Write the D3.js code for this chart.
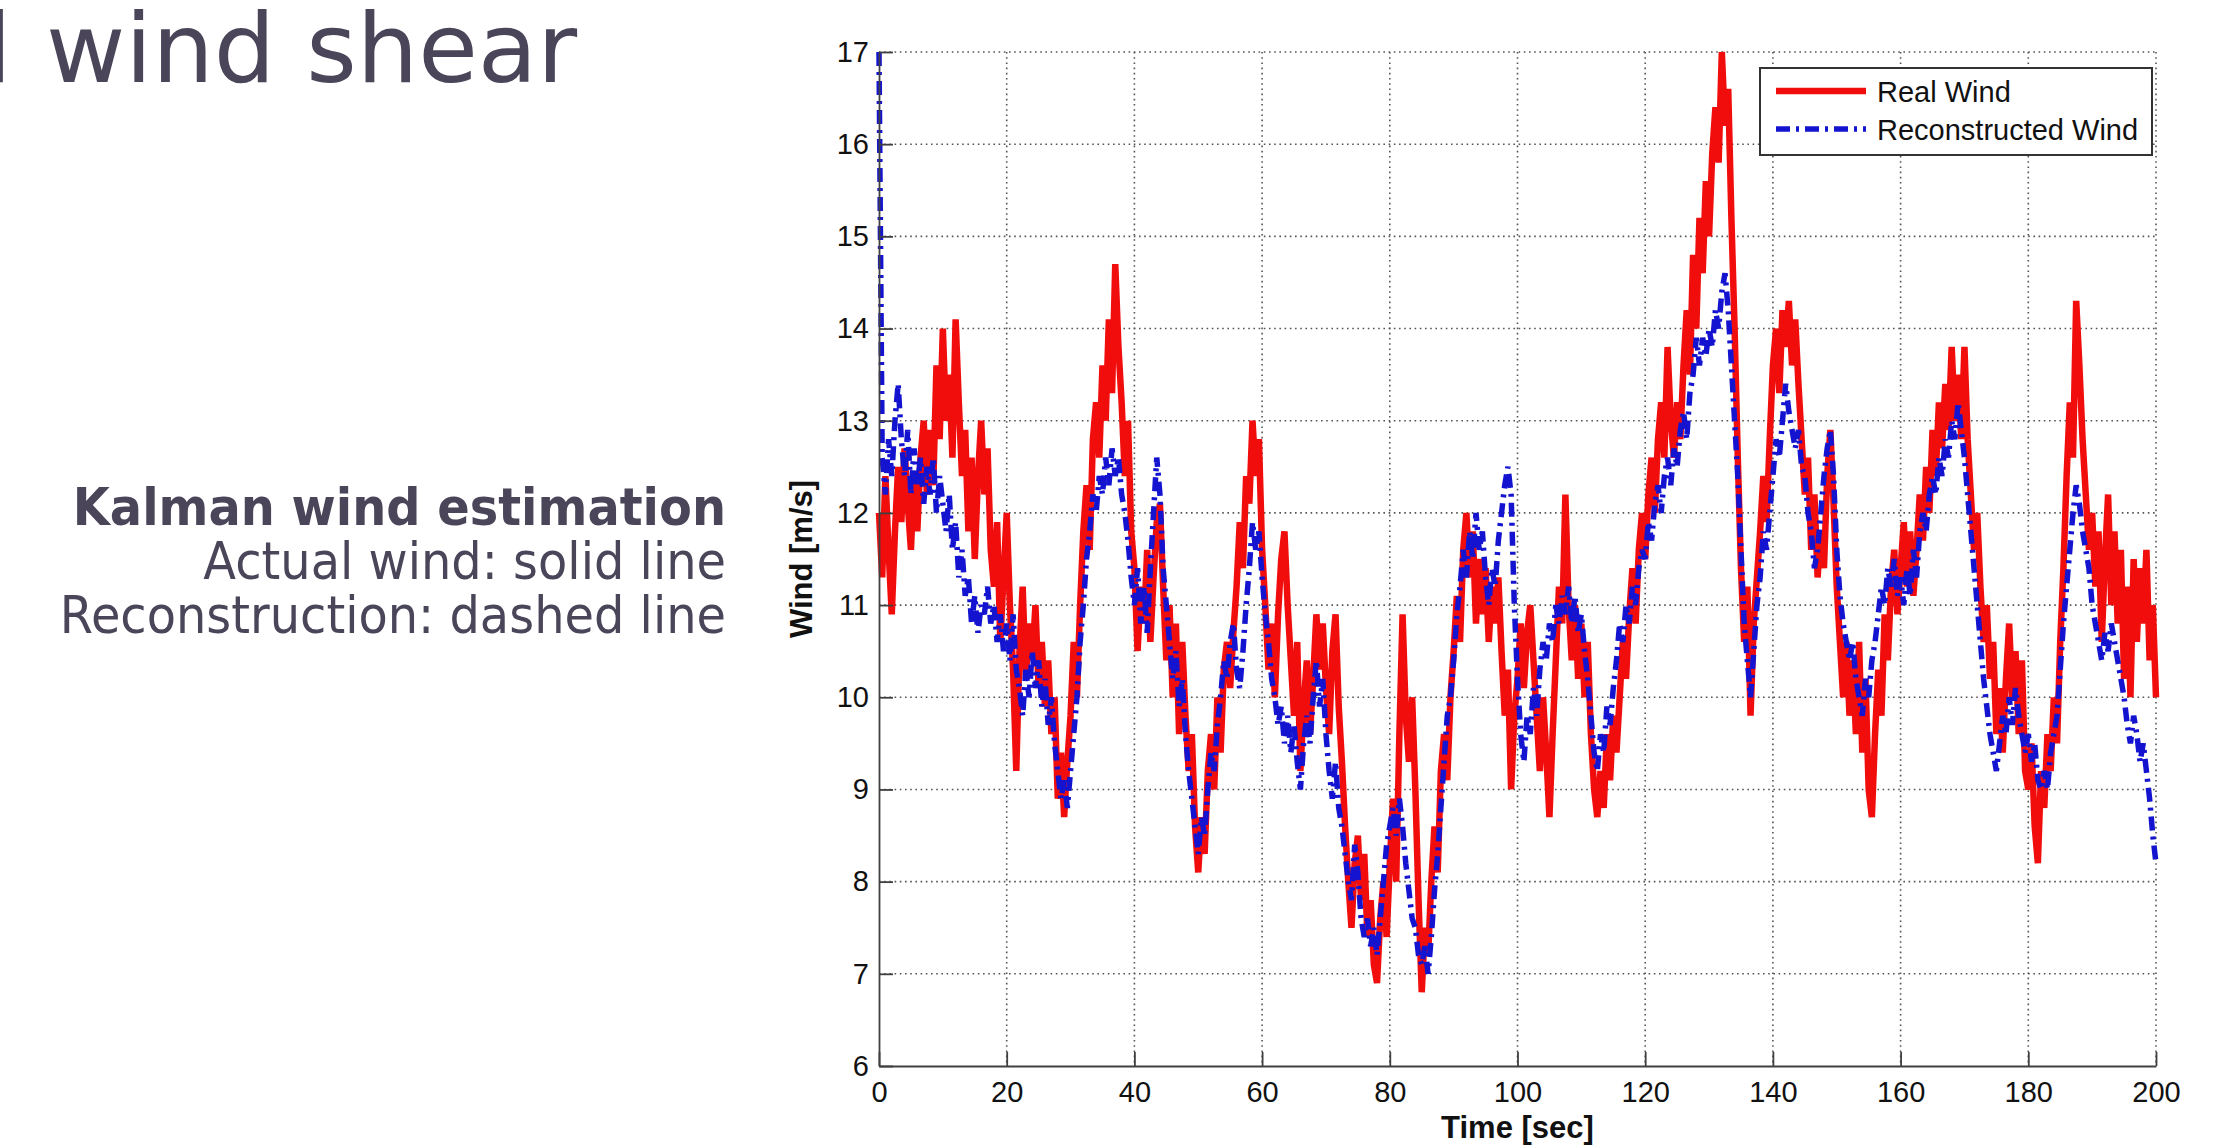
<!DOCTYPE html>
<html><head><meta charset="utf-8">
<script src="https://cdn.jsdelivr.net/npm/d3@7"></script>
<style>body{margin:0;background:#fff;} svg{display:block;}</style>
</head><body><svg id="c" width="2232" height="1146"></svg>
<script>
const xTicks = [0,20,40,60,80,100,120,140,160,180,200];
const yTicks = [6,7,8,9,10,11,12,13,14,15,16,17];
const timeStep = 0.5;
const seriesNames = ["Real Wind","Reconstructed Wind"];
const titleLeft = "l";
const titleRight = "wind shear";
const noteLines = ["Kalman wind estimation","Actual wind: solid line","Reconstruction: dashed line"];
const xLabel = "Time [sec]";
const yLabel = "Wind [m/s]";

const realWind = [
12.0,11.3,12.4,11.6,10.9,11.8,12.5,11.9,12.7,12.1,11.6,12.4,11.8,12.6,13.0,12.2,12.9,12.3,13.6,12.8,
14.0,13.0,13.5,12.6,14.1,13.2,12.4,12.9,11.8,12.6,11.5,12.4,13.0,12.2,12.7,11.6,11.2,11.9,10.6,11.3,
12.0,11.0,10.3,9.2,10.5,11.2,10.2,10.8,10.4,11.0,10.1,10.6,9.9,10.4,9.6,10.0,8.9,9.4,8.7,9.3,
9.8,10.6,10.0,11.0,11.8,12.3,11.6,12.8,13.2,12.6,13.6,13.0,14.1,13.3,14.7,13.8,13.2,12.4,13.0,11.8,
11.4,10.5,11.2,10.8,11.6,10.6,11.3,11.9,12.1,11.2,10.4,11.0,10.0,10.8,9.6,10.6,9.8,9.2,9.6,8.6,
8.1,8.7,8.3,9.2,9.6,9.0,10.0,9.4,10.3,10.6,10.1,10.7,11.2,11.9,11.4,12.4,12.1,13.0,12.4,12.8,
11.6,11.0,10.3,10.8,10.0,10.9,11.5,11.8,11.0,10.4,9.8,10.6,9.2,9.9,10.4,9.6,10.2,10.9,10.3,10.8,
10.1,9.6,10.5,10.9,9.9,9.3,8.6,8.0,7.5,8.2,8.5,7.8,8.3,7.4,7.8,7.1,6.9,7.6,8.0,7.4,
8.2,8.9,8.0,9.6,10.9,9.8,9.3,10.0,9.0,7.8,6.8,7.5,7.2,8.0,8.6,8.1,9.2,9.6,9.1,10.0,
10.5,11.1,10.6,11.6,12.0,11.3,11.8,10.8,11.5,10.9,11.4,10.6,11.2,10.8,11.3,10.5,9.8,10.3,9.0,9.8,
10.2,10.8,10.1,10.7,11.0,10.4,9.8,9.2,10.0,9.4,8.7,9.6,10.4,11.2,10.8,12.2,11.0,10.4,11.0,10.2,
10.8,10.0,10.6,9.6,9.0,8.7,9.2,8.8,9.6,9.1,9.8,9.4,10.0,10.6,10.2,10.9,11.4,10.8,11.6,12.0,
11.5,12.2,12.6,12.0,12.8,13.2,12.6,13.8,13.0,12.6,13.2,12.8,13.6,14.2,13.5,14.8,14.0,15.2,14.6,15.6,
15.0,15.9,16.4,15.8,17.0,16.2,16.6,15.2,14.0,12.6,11.4,10.6,11.2,9.8,10.8,11.3,11.8,12.4,11.9,12.8,
13.6,14.0,13.3,14.2,13.8,14.3,13.6,14.1,13.4,12.8,12.2,12.6,11.6,12.2,11.3,11.8,11.4,12.4,12.9,12.1,
11.2,10.6,10.0,10.6,9.8,10.4,9.6,10.6,9.4,10.2,9.0,8.7,9.6,10.3,9.8,10.9,10.4,11.2,11.6,10.9,
11.4,11.9,11.2,11.8,11.1,11.6,12.2,11.7,12.5,12.0,12.9,12.4,13.2,12.7,13.4,12.9,13.8,13.0,13.5,12.8,
13.8,12.8,12.2,11.6,12.0,11.2,10.6,11.0,10.2,10.6,9.6,10.1,9.4,10.2,10.8,10.0,10.5,9.6,10.4,9.2,
9.0,9.5,8.6,8.2,9.2,8.8,9.6,9.2,10.0,9.5,10.6,11.4,12.4,13.2,12.6,14.3,13.6,12.8,12.2,11.6,
12.0,11.2,11.8,10.6,11.5,12.2,11.0,11.8,10.8,11.6,10.2,11.2,10.0,11.5,10.6,11.4,10.8,11.6,10.4,11.0,
10.0];

const reconWind = [
17.0,12.6,12.2,12.8,12.4,13.0,13.4,12.8,12.4,12.9,12.2,12.7,12.3,12.6,12.1,12.5,12.2,12.6,12.0,12.4,
12.1,11.8,12.2,11.6,11.9,11.3,11.6,11.1,11.3,10.8,11.1,10.7,11.0,10.9,11.2,10.8,11.0,10.6,10.9,10.5,
10.8,10.4,10.9,10.3,10.1,9.8,10.3,10.0,10.5,10.1,10.4,9.9,10.2,9.7,10.0,9.5,9.2,8.9,9.1,8.8,
9.2,9.6,10.0,10.6,11.0,11.5,11.8,12.2,12.0,12.4,12.2,12.6,12.3,12.7,12.4,12.6,12.2,12.0,11.7,11.3,
11.0,11.4,10.8,11.2,10.7,11.4,12.0,12.6,12.2,11.4,11.0,10.6,10.2,10.5,9.9,10.2,9.6,9.2,8.9,8.6,
8.3,8.7,8.5,9.0,9.4,9.2,9.7,10.0,10.4,10.2,10.6,10.8,10.3,10.1,10.5,11.0,11.4,11.9,11.6,11.8,
11.3,10.9,10.6,10.2,10.0,9.7,9.9,9.5,9.8,9.4,9.7,9.3,9.0,9.5,9.8,9.5,10.0,10.4,9.9,10.2,
9.6,9.2,8.9,9.3,8.8,8.6,8.3,8.0,7.8,8.4,8.1,7.6,7.4,7.6,7.3,7.5,7.2,7.6,8.0,8.4,
8.6,8.8,8.5,8.9,8.6,8.2,7.9,7.6,7.5,7.2,7.1,7.3,7.0,7.4,7.9,8.3,8.8,9.3,9.8,10.0,
10.4,10.9,11.2,11.6,11.3,11.8,11.5,12.0,11.6,11.8,11.3,11.0,11.4,11.2,11.7,12.0,12.3,12.5,12.2,11.0,
10.2,9.6,9.3,9.8,9.6,10.1,9.8,10.3,10.6,10.4,10.8,10.6,11.0,10.8,11.1,10.9,11.2,10.8,11.1,10.7,
10.9,10.5,10.2,9.8,9.4,9.2,9.6,9.4,9.9,9.7,10.1,10.4,10.8,10.6,11.0,10.8,11.2,11.0,11.4,11.6,
11.5,11.9,11.7,12.1,12.3,12.0,12.4,12.6,12.3,12.7,12.5,12.9,13.1,12.8,13.3,13.5,13.9,13.6,13.9,13.7,
14.0,13.8,14.2,14.0,14.4,14.6,14.2,13.6,13.0,12.4,11.6,10.8,10.4,10.0,10.5,11.0,11.3,11.8,11.6,12.0,
12.4,12.8,12.6,13.0,13.4,13.1,12.9,12.7,12.9,12.5,12.4,12.0,11.8,11.4,11.6,12.0,12.4,12.7,12.9,12.4,
11.6,11.1,10.8,10.6,10.4,10.6,10.2,10.0,9.8,10.2,10.0,10.4,10.6,10.9,11.2,11.0,11.4,11.2,11.5,11.1,
11.3,11.0,11.4,11.1,11.6,11.3,11.8,12.0,11.8,12.2,12.4,12.2,12.6,12.4,12.8,12.6,13.0,12.8,13.2,12.9,
12.6,12.2,11.8,11.4,11.0,10.6,10.2,9.9,9.6,9.4,9.2,9.5,9.8,9.6,10.0,9.7,10.1,9.8,9.6,9.4,
9.6,9.3,9.5,9.1,9.0,9.2,9.0,9.4,9.6,9.8,10.3,10.8,11.2,11.6,12.0,12.3,12.1,11.8,11.6,11.4,
11.0,10.8,10.6,10.4,10.7,10.5,10.8,10.6,10.4,10.2,10.0,9.7,9.5,9.8,9.6,9.3,9.5,9.2,8.9,8.5,
8.2];

const svg = d3.select("#c");
svg.append("rect").attr("width",2232).attr("height",1146).attr("fill","#fff");

const textColor = "#4a4559";
// slide texts
const t = svg.append("text").attr("y",82).attr("fill",textColor)
  .style("font-family","'DejaVu Sans', Verdana, sans-serif").style("font-size","97px");
t.append("tspan").attr("x",-15).text(titleLeft);
t.append("tspan").attr("x",46).text(titleRight);

const noteY = [525,579,633];
const notes = svg.append("g").attr("transform","translate(726,0) scale(0.93,1)");
noteLines.forEach((s,i)=>{
  notes.append("text").attr("x",0).attr("y",noteY[i]).attr("text-anchor","end")
    .attr("fill",textColor)
    .style("font-family","'DejaVu Sans', Verdana, sans-serif")
    .style("font-size","51.5px").style("font-weight", i===0?"bold":"normal")
    .text(s);
});

// chart
const x = d3.scaleLinear().domain([0,200]).range([879,2156]);
const y = d3.scaleLinear().domain([6,17]).range([1066,52]);
const axisColor = "#404040";
const font = "'Liberation Sans', Arial, sans-serif";

// grid
const grid = svg.append("g").attr("stroke","#555").attr("stroke-width",1.6).attr("stroke-dasharray","1.6,3.6");
grid.selectAll(".gx").data(xTicks.filter(d=>d>0)).join("line")
  .attr("x1",d=>x(d)).attr("x2",d=>x(d)).attr("y1",y(17)).attr("y2",y(6));
grid.selectAll(".gy").data(yTicks.filter(d=>d>6)).join("line")
  .attr("y1",d=>y(d)).attr("y2",d=>y(d)).attr("x1",x(0)).attr("x2",x(200));

// lines
const pts = arr => arr.map((v,i)=>[i*timeStep, v]);
const line = d3.line().x(d=>x(d[0])).y(d=>y(d[1]));
svg.append("path").datum(pts(realWind)).attr("d",line)
  .attr("fill","none").attr("stroke","#f20d0d").attr("stroke-width",6.5).attr("stroke-linejoin","miter").attr("stroke-miterlimit",2);
svg.append("path").datum(pts(reconWind)).attr("d",line)
  .attr("fill","none").attr("stroke","#1414d0").attr("stroke-width",5.5).attr("stroke-dasharray","14,6,3,6").attr("stroke-miterlimit",2);

// axes
const gx = svg.append("g").attr("transform",`translate(0,${y(6)})`)
  .call(d3.axisBottom(x).tickValues(xTicks).tickSizeInner(-14).tickSizeOuter(0).tickPadding(15).tickFormat(d3.format("d")));
const gy = svg.append("g").attr("transform",`translate(${x(0)},0)`)
  .call(d3.axisLeft(y).tickValues(yTicks).tickSizeInner(-14).tickSizeOuter(0).tickPadding(10).tickFormat(d3.format("d")));
[gx,gy].forEach(g=>{
  g.selectAll("path,line").attr("stroke",axisColor).attr("stroke-width",1.8);
  g.selectAll("text").attr("fill","#111").style("font-family",font).style("font-size","29px");
});

svg.append("text").attr("x",(x(0)+x(200))/2).attr("y",1138).attr("text-anchor","middle")
  .attr("fill","#111").style("font-family",font).style("font-size","31px").style("font-weight","bold").text(xLabel);
svg.append("text").attr("transform",`translate(812,${(y(6)+y(17))/2}) rotate(-90)`).attr("text-anchor","middle")
  .attr("fill","#111").style("font-family",font).style("font-size","31px").style("font-weight","bold").text(yLabel);

// legend
const lg = svg.append("g");
lg.append("rect").attr("x",1760).attr("y",68).attr("width",392).attr("height",87)
  .attr("fill","#fff").attr("stroke","#333").attr("stroke-width",2);
const legY = [91,129];
const legStyles = [{c:"#f20d0d",w:6.5,d:null},{c:"#1414d0",w:5.5,d:"14,6,3,6"}];
seriesNames.forEach((n,i)=>{
  lg.append("line").attr("x1",1776).attr("x2",1866).attr("y1",legY[i]).attr("y2",legY[i])
    .attr("stroke",legStyles[i].c).attr("stroke-width",legStyles[i].w).attr("stroke-dasharray",legStyles[i].d);
  lg.append("text").attr("x",1877).attr("y",legY[i]+11).attr("fill","#111")
    .style("font-family",font).style("font-size","29px").text(n);
});
</script></body></html>
